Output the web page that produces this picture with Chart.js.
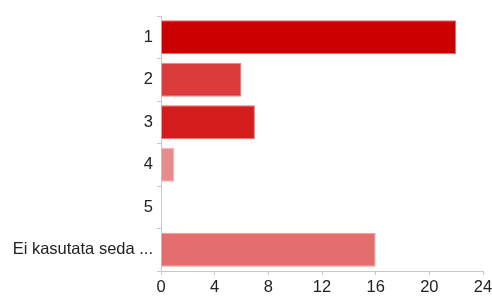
<!DOCTYPE html>
<html>
<head>
<meta charset="utf-8">
<script src="https://cdn.jsdelivr.net/npm/chart.js@4"></script>
<style>
  html, body { margin: 0; padding: 0; background: #fff; }
  #wrap { width: 492px; height: 296px; }
</style>
</head>
<body>
<div id="wrap"><canvas id="chart" width="492" height="296"></canvas></div>
<script>
// andmed
const categories = ['1', '2', '3', '4', '5', 'Ei kasutata seda ...'];
const counts = [22, 6, 7, 1, 0, 16];
const barColors = ['#cc0000', '#db3b3b', '#d41e1e', '#e88b8b', '#e46e6e', '#e46e6e'];
const borderColors = ['#e06a6a', '#e88888', '#e37474', '#f0b4b4', '#eea0a0', '#eea0a0'];
const xTicks = [0, 4, 8, 12, 16, 20, 24];

Chart.defaults.font.family = '"Liberation Sans", Arial, sans-serif';
Chart.defaults.font.size = 16.5;
Chart.defaults.color = '#222';

new Chart(document.getElementById('chart'), {
    type: 'bar',
    data: {
        labels: categories,
        datasets: [{
            data: counts,
            backgroundColor: barColors,
            borderColor: borderColors,
            borderWidth: 1,
            barPercentage: 0.9,
            categoryPercentage: 0.89
        }]
    },
    options: {
        indexAxis: 'y',
        responsive: false,
        animation: false,
        layout: { padding: { left: 0, right: 9, top: 16, bottom: 0 } },
        plugins: { legend: { display: false }, tooltip: { enabled: false } },
        scales: {
            x: {
                min: 0,
                max: 24,
                afterBuildTicks: (scale) => { scale.ticks = xTicks.map(v => ({ value: v })); },
                afterFit: (scale) => {
                    scale.height = 25;
                    scale.paddingLeft = 0;
                    scale.paddingRight = 0;
                },
                ticks: { padding: 3, maxRotation: 0 },
                grid: { drawOnChartArea: false, tickLength: 4, color: '#c8c8c8' },
                border: { color: '#c8c8c8' }
            },
            y: {
                afterFit: (scale) => {
                    scale.width = 161;
                    scale.paddingTop = 0;
                    scale.paddingBottom = 0;
                },
                ticks: { padding: 4 },
                grid: { drawOnChartArea: false, tickLength: 4, color: '#c8c8c8' },
                border: { color: '#c8c8c8' }
            }
        }
    }
});
</script>
</body>
</html>
